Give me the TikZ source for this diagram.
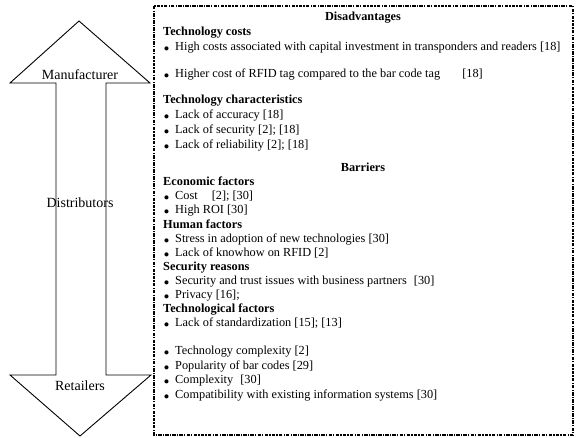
\documentclass[tikz,border=0pt]{standalone}
\usepackage{fontspec}
\setmainfont{Liberation Serif}
\begin{document}
\begin{tikzpicture}[x=1pt,y=-1pt,
  txt/.style={anchor=base west,inner sep=0pt,font=\fontsize{12.3}{14}\selectfont},
  head/.style={txt,font=\fontsize{12.3}{14}\selectfont\bfseries},
  title/.style={anchor=base,inner sep=0pt,font=\fontsize{12.3}{14}\selectfont\bfseries},
  flowlabel/.style={anchor=base,inner sep=0pt,font=\fontsize{14}{16}\selectfont},
  flowarrow/.style={draw=black,line width=0.9pt,line join=miter},
  panel/.style={draw=black,line width=1.2pt,dash pattern=on 3.5pt off 1.2pt on 1.2pt off 1.2pt}]
\newcommand{\blt}{\makebox[12pt][l]{\hspace{0.3pt}\smash{\raisebox{-3.4pt}{\fontsize{17}{17}\selectfont\textbullet}}}}
\useasboundingbox (0,0) rectangle (576,438);

% double-headed supply chain arrow
\draw[flowarrow] (79,21) -- (150,83) -- (106,83) -- (106,375) -- (151,375)
  -- (80,436) -- (10,375) -- (56,375) -- (56,83) -- (10,83) -- cycle;
\node[flowlabel] (manu) at (80,80) {Manufacturer};
\node[flowlabel] (dist) at (80,208) {Distributors};
\node[flowlabel] (ret)  at (80,391) {Retailers};

% framed list of disadvantages and barriers
\draw[panel] (154,6) rectangle (573,435);

\node[title] (dis) at (363,21) {Disadvantages};
\node[head] (h1) at (163,36) {Technology costs};
\node[txt] (d1) at (163,51) {\blt High costs associated with capital investment in transponders and readers [18]};
\node[txt] (d2) at (163,78) {\blt Higher cost of RFID tag compared to the bar code tag\hspace{22pt}[18]};
\node[head] (h2) at (163,104) {Technology characteristics};
\node[txt] (d3) at (163,119) {\blt Lack of accuracy [18]};
\node[txt] (d4) at (163,134) {\blt Lack of security [2]; [18]};
\node[txt] (d5) at (163,149) {\blt Lack of reliability [2]; [18]};

\node[title] (bar) at (363,172) {Barriers};
\node[head] (h3) at (163,186) {Economic factors};
\node[txt] (b1) at (163,200) {\blt Cost\hspace{14pt}[2]; [30]};
\node[txt] (b2) at (163,214) {\blt High ROI [30]};
\node[head] (h4) at (163,229) {Human factors};
\node[txt] (b3) at (163,243) {\blt Stress in adoption of new technologies [30]};
\node[txt] (b4) at (163,257) {\blt Lack of knowhow on RFID [2]};
\node[head] (h5) at (163,271) {Security reasons};
\node[txt] (b5) at (163,285) {\blt Security and trust issues with business partners\hspace{4pt} [30]};
\node[txt] (b6) at (163,299) {\blt Privacy [16];};
\node[head] (h6) at (163,313) {Technological factors};
\node[txt] (b7) at (163,327) {\blt Lack of standardization [15]; [13]};
\node[txt] (b8) at (163,355) {\blt Technology complexity [2]};
\node[txt] (b9) at (163,370) {\blt Popularity of bar codes [29]};
\node[txt] (b10) at (163,384) {\blt Complexity\hspace{4pt} [30]};
\node[txt] (b11) at (163,399) {\blt Compatibility with existing information systems [30]};
\end{tikzpicture}
\end{document}
